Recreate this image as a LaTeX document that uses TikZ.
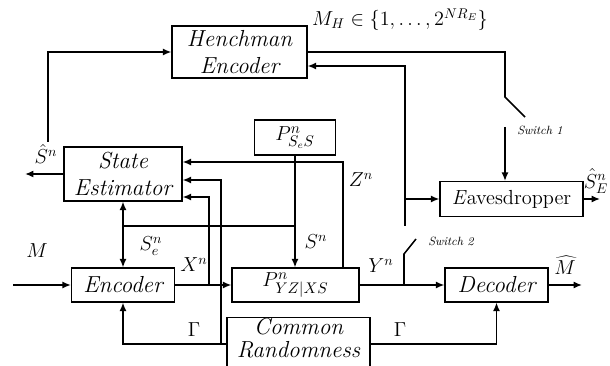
\documentclass[tikz,border=0pt]{standalone}
\usepackage{tikz}
\usetikzlibrary{arrows.meta}

\tikzset{
    blk/.style={draw, line width=0.8pt, inner sep=0pt, align=center,
        font=\fontsize{16.5}{19}\selectfont\itshape},
    wire/.style={line width=1.1pt},
    lbl/.style={font=\fontsize{14}{16}\selectfont},
    swlbl/.style={font=\fontsize{8.5}{10}\selectfont\itshape},
    >={Latex[length=6pt,width=5pt]}
}

\begin{document}
\begin{tikzpicture}[x=0.025cm,y=-0.025cm]
    \useasboundingbox (0,0) rectangle (610,366);

    % blocks
    \node[blk, minimum width=3.375cm, minimum height=1.3cm] (hench) at (239.5,52) {Henchman\\Encoder};
    \node[blk, minimum width=2.95cm, minimum height=1.35cm] (se) at (123,174) {State\\Estimator};
    \node[blk, minimum width=2.025cm, minimum height=0.875cm, font=\fontsize{15}{17}\selectfont] (pses) at (295,137.5) {$P^n_{S_eS}$};
    \node[blk, minimum width=2.575cm, minimum height=0.85cm] (enc) at (123,285) {Encoder};
    \node[blk, minimum width=3.175cm, minimum height=0.85cm, font=\fontsize{15}{17}\selectfont] (pyz) at (295.5,285) {$P^n_{YZ|XS}$};
    \node[blk, minimum width=3.575cm, minimum height=1.225cm, text depth=9pt, font=\fontsize{16.5}{16.5}\selectfont\itshape] (cr) at (298.5,344) {Common\\Randomness};
    \node[blk, minimum width=3.575cm, minimum height=0.875cm, font=\fontsize{14.5}{16}\selectfont] (eve) at (511.5,199) {\textit{E}avesdropper};
    \node[blk, minimum width=2.575cm, minimum height=0.85cm] (dec) at (496.5,285) {Decoder};

    % corners and free ends
    \coordinate (min) at (13,285);
    \coordinate (xb) at (209,285);
    \coordinate (xr) at (209,197);
    \coordinate (cru) at (221,180);
    \coordinate (zr) at (343,162);
    \coordinate (sb) at (295,226);
    \coordinate (shat) at (25,174);
    \coordinate (hu) at (48,142);
    \coordinate (sw1a) at (505,97);
    \coordinate (sw1t) at (525,117);
    \coordinate (sw1b) at (505,127);
    \coordinate (evb) at (405,226);
    \coordinate (evt) at (405,66);
    \coordinate (sw2a) at (404,285);
    \coordinate (sw2b) at (404,254);
    \coordinate (sw2t) at (416,239);
    \coordinate (eveout) at (600,199);
    \coordinate (mhat) at (582,285);

    % connectors
    \draw[wire,->] (min) -- (enc.west);
    \draw[wire,->] (enc.east) -- (pyz.west);
    \draw[wire,->] (xb) -- (xr) -- (se.east |- xr);
    \draw[wire,->] (cr.west) -| (enc.south);
    \draw[wire,->] (cr.west -| cru) -- (cru) -- (se.east |- cru);
    \draw[wire,->] (pyz.north -| zr) -- (zr) -- (se.east |- zr);
    \draw[wire,->] (pses.south) -- (pses.south |- pyz.north);
    \draw[wire] (sb) -- (se.south |- sb);
    \draw[wire,<->] (se.south) -- (enc.north);
    \draw[wire,->] (se.west) -- (shat);
    \draw[wire,->] (hu) |- (hench.west);
    \draw[wire] (hench.east) -| (sw1a) -- (sw1t);
    \draw[wire,->] (sw1b) -- (eve.north -| sw1b);
    \draw[wire,->] (evb) -- (evt) -- (hench.east |- evt);
    \draw[wire,->] (evb |- eve.west) -- (eve.west);
    \draw[wire,->] (eve.east) -- (eveout);
    \draw[wire,->] (pyz.east) -- (dec.west);
    \draw[wire] (sw2a) -- (sw2b) -- (sw2t);
    \draw[wire,->] (cr.east) -| (dec.south);
    \draw[wire,->] (dec.east) -- (mhat);

    % labels
    \node[lbl] at (400,20) {$M_H\in\{1,\ldots,2^{NR_E}\}$};
    \node[swlbl] at (540,130) {Switch 1};
    \node[swlbl] at (451,241) {Switch 2};
    \node[lbl] at (37,251) {$M$};
    \node[lbl] at (46,154) {$\hat{S}^n$};
    \node[lbl] at (151,246) {$S_e^n$};
    \node[lbl] at (194,265) {$X^n$};
    \node[lbl] at (316,242) {$S^n$};
    \node[lbl] at (361,180) {$Z^n$};
    \node[lbl] at (381,266) {$Y^n$};
    \node[lbl] at (194,330) {$\Gamma$};
    \node[lbl] at (400,330) {$\Gamma$};
    \node[lbl] at (596,181) {$\hat{S}_E^n$};
    \node[lbl] at (565,265) {$\widehat{M}$};
\end{tikzpicture}
\end{document}
